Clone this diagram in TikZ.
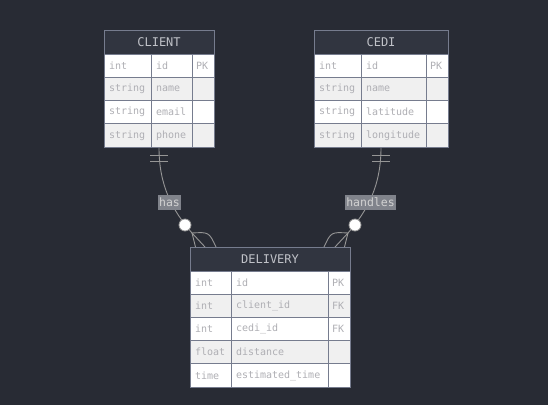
\documentclass[tikz,border=0pt]{standalone}
\usepackage{fontspec}
\setmonofont{DejaVu Sans Mono}
\definecolor{bg}{RGB}{40,43,52}
\definecolor{hdrfill}{RGB}{49,53,64}
\definecolor{bord}{RGB}{118,124,142}
\definecolor{rowgray}{RGB}{240,240,240}
\definecolor{celltext}{RGB}{175,175,180}
\definecolor{hdrtext}{RGB}{192,194,200}
\definecolor{linec}{RGB}{150,150,150}
\definecolor{lblbg}{RGB}{128,131,139}
\definecolor{lbltext}{RGB}{210,210,210}
\begin{document}
\begin{tikzpicture}[x=1pt,y=-1pt,
  hdr/.style={draw=bord, fill=hdrfill, line width=1pt, text=hdrtext,
    font=\ttfamily\fontsize{12}{14}\selectfont, minimum height=24pt,
    anchor=north west, inner sep=0pt, outer sep=0pt},
  cell/.style={draw=bord, line width=1pt, text=celltext,
    font=\ttfamily\fontsize{10}{12}\selectfont, anchor=north west,
    inner xsep=5pt, inner ysep=0pt, outer sep=0pt, align=left},
  keycell/.style={cell, inner xsep=4pt, text width=14pt},
  rel/.style={draw=linec, line width=0.9pt},
  lbl/.style={fill=lblbg, text=lbltext, font=\ttfamily\fontsize{11.5}{13}\selectfont,
    inner xsep=1pt, inner ysep=1pt, minimum height=15pt},
  ring/.style={circle, draw=linec, fill=white, line width=0.8pt, minimum size=12pt, inner sep=0pt}
]
\path[use as bounding box, fill=bg] (0,0) rectangle (548,405);

% CLIENT
\node[hdr, minimum width=110pt] (client) at (104,30) {CLIENT};
\foreach \ty/\nm/\ky [count=\c from 0] in {int/id/PK, string/name/{}, string/email/{}, string/phone/{}} {
  \ifodd\c \def\rf{rowgray}\else\def\rf{white}\fi
  \node[cell, fill=\rf, text width=37pt, minimum height=23.25pt] (client-t\c) at (104,54+\c*23.25) {\ty};
  \node[cell, fill=\rf, text width=31pt, minimum height=23.25pt] (client-n\c) at (151,54+\c*23.25) {\nm};
  \node[keycell, fill=\rf, minimum height=23.25pt] (client-k\c) at (192,54+\c*23.25) {\ky};
}

% CEDI
\node[hdr, minimum width=134pt] (cedi) at (314,30) {CEDI};
\foreach \ty/\nm/\ky [count=\c from 0] in {int/id/PK, string/name/{}, string/latitude/{}, string/longitude/{}} {
  \ifodd\c \def\rf{rowgray}\else\def\rf{white}\fi
  \node[cell, fill=\rf, text width=37pt, minimum height=23.25pt] (cedi-t\c) at (314,54+\c*23.25) {\ty};
  \node[cell, fill=\rf, text width=55pt, minimum height=23.25pt] (cedi-n\c) at (361,54+\c*23.25) {\nm};
  \node[keycell, fill=\rf, minimum height=23.25pt] (cedi-k\c) at (426,54+\c*23.25) {\ky};
}

% DELIVERY
\node[hdr, minimum width=160pt] (delivery) at (190,247) {DELIVERY};
\foreach \ty/\nm/\ky [count=\c from 0] in {int/id/PK, int/client\_id/FK, int/cedi\_id/FK, float/distance/{}, time/estimated\_time/{}} {
  \ifodd\c \def\rf{rowgray}\else\def\rf{white}\fi
  \node[cell, fill=\rf, text width=31pt, minimum height=23.2pt] (del-t\c) at (190,271+\c*23.2) {\ty};
  \node[cell, fill=\rf, text width=87pt, minimum height=23.2pt] (del-n\c) at (231,271+\c*23.2) {\nm};
  \node[keycell, fill=\rf, minimum height=23.2pt] (del-k\c) at (328,271+\c*23.2) {\ky};
}

% connector CLIENT - DELIVERY
\coordinate (clbot) at (159,147.5);
\coordinate (lfoot) at (192,233);
\coordinate (lf1) at (195.5,247);
\coordinate (lf2) at (205,247);
\coordinate (lf3) at (216,247);
\coordinate (lb1a) at (150,155);
\coordinate (lb1b) at (168,155);
\coordinate (lb2a) at (150,161);
\coordinate (lb2b) at (168,161);
\draw[rel] (clbot) .. controls (159,185) and (172,210) .. (lfoot);
\draw[rel] (lb1a) -- (lb1b);
\draw[rel] (lb2a) -- (lb2b);
\draw[rel] (lfoot) -- (lf1);
\draw[rel] (lfoot) -- (lf2);
\draw[rel] (lfoot) .. controls (209,232) .. (lf3);
\node[ring] (lring) at (185,225) {};
\node[lbl] (has) at (169.5,202.5) {has};

% connector CEDI - DELIVERY
\coordinate (cebot) at (381,147.5);
\coordinate (rfoot) at (348,233);
\coordinate (rf1) at (344.5,247);
\coordinate (rf2) at (335,247);
\coordinate (rf3) at (324,247);
\coordinate (rb1a) at (372,155);
\coordinate (rb1b) at (390,155);
\coordinate (rb2a) at (372,161);
\coordinate (rb2b) at (390,161);
\draw[rel] (cebot) .. controls (381,185) and (368,210) .. (rfoot);
\draw[rel] (rb1a) -- (rb1b);
\draw[rel] (rb2a) -- (rb2b);
\draw[rel] (rfoot) -- (rf1);
\draw[rel] (rfoot) -- (rf2);
\draw[rel] (rfoot) .. controls (331,232) .. (rf3);
\node[ring] (rring) at (355,225) {};
\node[lbl] (handles) at (370.5,202.5) {handles};
\end{tikzpicture}
\end{document}
